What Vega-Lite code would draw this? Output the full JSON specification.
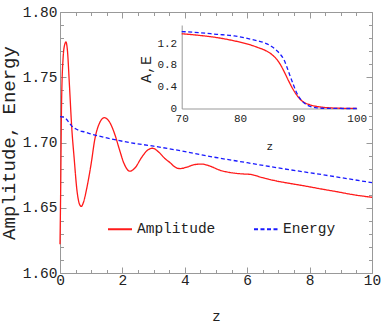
{
  "$schema": "https://vega.github.io/schema/vega-lite/v6.json",
  "width": 312,
  "height": 261,
  "autosize": {"type": "none"},
  "padding": {"left": 60, "top": 12, "right": 10, "bottom": 54},
  "background": "white",
  "datasets": {
    "main": [
      {"z": 0, "v": 1.622, "series": "Amplitude"},
      {"z": 0.02, "v": 1.66, "series": "Amplitude"},
      {"z": 0.05, "v": 1.73, "series": "Amplitude"},
      {"z": 0.1, "v": 1.765, "series": "Amplitude"},
      {"z": 0.15, "v": 1.775, "series": "Amplitude"},
      {"z": 0.19, "v": 1.777, "series": "Amplitude"},
      {"z": 0.24, "v": 1.77, "series": "Amplitude"},
      {"z": 0.3, "v": 1.745, "series": "Amplitude"},
      {"z": 0.38, "v": 1.71, "series": "Amplitude"},
      {"z": 0.45, "v": 1.689, "series": "Amplitude"},
      {"z": 0.55, "v": 1.662, "series": "Amplitude"},
      {"z": 0.62, "v": 1.653, "series": "Amplitude"},
      {"z": 0.68, "v": 1.651, "series": "Amplitude"},
      {"z": 0.75, "v": 1.654, "series": "Amplitude"},
      {"z": 0.85, "v": 1.664, "series": "Amplitude"},
      {"z": 1.0, "v": 1.684, "series": "Amplitude"},
      {"z": 1.12, "v": 1.703, "series": "Amplitude"},
      {"z": 1.25, "v": 1.714, "series": "Amplitude"},
      {"z": 1.42, "v": 1.719, "series": "Amplitude"},
      {"z": 1.58, "v": 1.716, "series": "Amplitude"},
      {"z": 1.76, "v": 1.706, "series": "Amplitude"},
      {"z": 1.9, "v": 1.695, "series": "Amplitude"},
      {"z": 2.05, "v": 1.684, "series": "Amplitude"},
      {"z": 2.24, "v": 1.678, "series": "Amplitude"},
      {"z": 2.42, "v": 1.681, "series": "Amplitude"},
      {"z": 2.6, "v": 1.688, "series": "Amplitude"},
      {"z": 2.8, "v": 1.694, "series": "Amplitude"},
      {"z": 2.97, "v": 1.6956, "series": "Amplitude"},
      {"z": 3.15, "v": 1.693, "series": "Amplitude"},
      {"z": 3.35, "v": 1.688, "series": "Amplitude"},
      {"z": 3.53, "v": 1.6845, "series": "Amplitude"},
      {"z": 3.7, "v": 1.681, "series": "Amplitude"},
      {"z": 3.85, "v": 1.68, "series": "Amplitude"},
      {"z": 4.05, "v": 1.681, "series": "Amplitude"},
      {"z": 4.3, "v": 1.683, "series": "Amplitude"},
      {"z": 4.54, "v": 1.6835, "series": "Amplitude"},
      {"z": 4.8, "v": 1.682, "series": "Amplitude"},
      {"z": 5.1, "v": 1.679, "series": "Amplitude"},
      {"z": 5.45, "v": 1.677, "series": "Amplitude"},
      {"z": 5.8, "v": 1.676, "series": "Amplitude"},
      {"z": 6.09, "v": 1.6756, "series": "Amplitude"},
      {"z": 6.5, "v": 1.673, "series": "Amplitude"},
      {"z": 6.94, "v": 1.6705, "series": "Amplitude"},
      {"z": 7.4, "v": 1.6685, "series": "Amplitude"},
      {"z": 7.8, "v": 1.6669, "series": "Amplitude"},
      {"z": 8.3, "v": 1.6647, "series": "Amplitude"},
      {"z": 8.87, "v": 1.6623, "series": "Amplitude"},
      {"z": 9.4, "v": 1.66, "series": "Amplitude"},
      {"z": 10, "v": 1.658, "series": "Amplitude"},
      {"z": 0, "v": 1.7198, "series": "Energy"},
      {"z": 0.1, "v": 1.7195, "series": "Energy"},
      {"z": 0.2, "v": 1.718, "series": "Energy"},
      {"z": 0.3, "v": 1.715, "series": "Energy"},
      {"z": 0.4, "v": 1.712, "series": "Energy"},
      {"z": 0.5, "v": 1.7105, "series": "Energy"},
      {"z": 0.6, "v": 1.7093, "series": "Energy"},
      {"z": 0.8, "v": 1.708, "series": "Energy"},
      {"z": 1, "v": 1.7065, "series": "Energy"},
      {"z": 1.5, "v": 1.7035, "series": "Energy"},
      {"z": 2.24, "v": 1.6999, "series": "Energy"},
      {"z": 3, "v": 1.6972, "series": "Energy"},
      {"z": 3.6, "v": 1.6948, "series": "Energy"},
      {"z": 5, "v": 1.6885, "series": "Energy"},
      {"z": 6, "v": 1.6845, "series": "Energy"},
      {"z": 7, "v": 1.6805, "series": "Energy"},
      {"z": 8.5, "v": 1.675, "series": "Energy"},
      {"z": 10, "v": 1.6692, "series": "Energy"}
    ],
    "inset": [
      {"z": 70, "v": 1.37, "series": "Amplitude"},
      {"z": 73, "v": 1.34, "series": "Amplitude"},
      {"z": 76, "v": 1.3, "series": "Amplitude"},
      {"z": 79, "v": 1.24, "series": "Amplitude"},
      {"z": 81, "v": 1.19, "series": "Amplitude"},
      {"z": 83, "v": 1.12, "series": "Amplitude"},
      {"z": 84.5, "v": 1.055, "series": "Amplitude"},
      {"z": 85.5, "v": 0.985, "series": "Amplitude"},
      {"z": 86.3, "v": 0.9, "series": "Amplitude"},
      {"z": 87, "v": 0.79, "series": "Amplitude"},
      {"z": 87.7, "v": 0.645, "series": "Amplitude"},
      {"z": 88.4, "v": 0.49, "series": "Amplitude"},
      {"z": 89.1, "v": 0.35, "series": "Amplitude"},
      {"z": 89.7, "v": 0.25, "series": "Amplitude"},
      {"z": 90.3, "v": 0.17, "series": "Amplitude"},
      {"z": 91, "v": 0.11, "series": "Amplitude"},
      {"z": 91.8, "v": 0.075, "series": "Amplitude"},
      {"z": 92.6, "v": 0.05, "series": "Amplitude"},
      {"z": 94, "v": 0.025, "series": "Amplitude"},
      {"z": 95, "v": 0.015, "series": "Amplitude"},
      {"z": 97, "v": 0.005, "series": "Amplitude"},
      {"z": 100, "v": 0.002, "series": "Amplitude"},
      {"z": 70, "v": 1.41, "series": "Energy"},
      {"z": 73, "v": 1.39, "series": "Energy"},
      {"z": 76, "v": 1.36, "series": "Energy"},
      {"z": 79, "v": 1.33, "series": "Energy"},
      {"z": 81, "v": 1.29, "series": "Energy"},
      {"z": 83, "v": 1.24, "series": "Energy"},
      {"z": 84.5, "v": 1.19, "series": "Energy"},
      {"z": 85.5, "v": 1.13, "series": "Energy"},
      {"z": 86.3, "v": 1.06, "series": "Energy"},
      {"z": 87, "v": 0.98, "series": "Energy"},
      {"z": 87.5, "v": 0.9, "series": "Energy"},
      {"z": 88, "v": 0.77, "series": "Energy"},
      {"z": 88.5, "v": 0.62, "series": "Energy"},
      {"z": 89.1, "v": 0.45, "series": "Energy"},
      {"z": 89.7, "v": 0.29, "series": "Energy"},
      {"z": 90.3, "v": 0.18, "series": "Energy"},
      {"z": 91, "v": 0.1, "series": "Energy"},
      {"z": 92, "v": 0.04, "series": "Energy"},
      {"z": 93, "v": 0.015, "series": "Energy"},
      {"z": 94, "v": 0.005, "series": "Energy"},
      {"z": 96, "v": 0.001, "series": "Energy"},
      {"z": 100, "v": 0, "series": "Energy"}
    ]
  },
  "layer": [
    {
      "data": {"name": "main"},
      "mark": {"type": "line", "interpolate": "monotone", "strokeWidth": 1.3},
      "encoding": {
        "x": {"field": "z", "type": "quantitative", "scale": {"domain": [0, 10], "nice": false, "zero": false},
          "axis": {"orient": "bottom", "title": "z", "ticks": false, "values": [0, 2, 4, 6, 8, 10], "format": "d", "labelFontSize": 14.5, "labelPadding": 0, "labelFlush": false, "labelOverlap": false, "titleFontSize": 14, "titleY": 47, "titleBaseline": "alphabetic"}},
        "y": {"field": "v", "type": "quantitative", "scale": {"domain": [1.6, 1.8], "nice": false, "zero": false},
          "axis": {"orient": "left", "title": "Amplitude, Energy", "ticks": false, "values": [1.6, 1.65, 1.7, 1.75, 1.8], "format": ".2f", "labelFontSize": 14.5, "labelPadding": 3, "labelFlush": false, "labelOverlap": false, "titleFontSize": 19, "titleX": -46, "titleY": 130.5, "titleBaseline": "alphabetic"}},
        "color": {"field": "series", "type": "nominal", "title": null, "scale": {"domain": ["Amplitude", "Energy"], "range": ["#ff1a1a", "#1a1aff"]}},
        "strokeDash": {"field": "series", "type": "nominal", "title": null, "scale": {"domain": ["Amplitude", "Energy"], "range": [[1, 0], [4, 2.5]]}}
      }
    },
    {
      "data": {"name": "main"},
      "mark": {"type": "point", "opacity": 0},
      "encoding": {
        "x": {"field": "z", "type": "quantitative", "scale": {"domain": [0, 10], "nice": false, "zero": false},
          "axis": {"orient": "top", "title": null, "labels": false, "values": [0, 2, 4, 6, 8, 10], "tickSize": -6}},
        "y": {"field": "v", "type": "quantitative", "scale": {"domain": [1.6, 1.8], "nice": false, "zero": false},
          "axis": {"orient": "right", "title": null, "labels": false, "values": [1.6, 1.65, 1.7, 1.75, 1.8], "tickSize": -6}}
      }
    },
    {
      "data": {"name": "main"},
      "mark": {"type": "point", "opacity": 0},
      "encoding": {
        "x": {"field": "z", "type": "quantitative", "scale": {"domain": [0, 10], "nice": false, "zero": false},
          "axis": {"orient": "bottom", "title": null, "labels": false, "domain": false, "values": [0, 2, 4, 6, 8, 10], "tickSize": -6}},
        "y": {"field": "v", "type": "quantitative", "scale": {"domain": [1.6, 1.8], "nice": false, "zero": false},
          "axis": {"orient": "left", "title": null, "labels": false, "domain": false, "values": [1.6, 1.65, 1.7, 1.75, 1.8], "tickSize": -6}}
      }
    },
    {
      "data": {"name": "main"},
      "mark": {"type": "point", "opacity": 0},
      "encoding": {
        "x": {"field": "z", "type": "quantitative", "scale": {"domain": [0, 10], "nice": false, "zero": false},
          "axis": {"orient": "top", "title": null, "labels": false, "domain": false, "values": [0.5, 1, 1.5, 2.5, 3, 3.5, 4.5, 5, 5.5, 6.5, 7, 7.5, 8.5, 9, 9.5], "tickSize": -3.5}},
        "y": {"field": "v", "type": "quantitative", "scale": {"domain": [1.6, 1.8], "nice": false, "zero": false},
          "axis": {"orient": "right", "title": null, "labels": false, "domain": false, "values": [1.61, 1.62, 1.63, 1.64, 1.66, 1.67, 1.68, 1.69, 1.71, 1.72, 1.73, 1.74, 1.76, 1.77, 1.78, 1.79], "tickSize": -3.5}}
      }
    },
    {
      "data": {"name": "main"},
      "mark": {"type": "point", "opacity": 0},
      "encoding": {
        "x": {"field": "z", "type": "quantitative", "scale": {"domain": [0, 10], "nice": false, "zero": false},
          "axis": {"orient": "bottom", "title": null, "labels": false, "domain": false, "values": [0.5, 1, 1.5, 2.5, 3, 3.5, 4.5, 5, 5.5, 6.5, 7, 7.5, 8.5, 9, 9.5], "tickSize": -3.5}},
        "y": {"field": "v", "type": "quantitative", "scale": {"domain": [1.6, 1.8], "nice": false, "zero": false},
          "axis": {"orient": "left", "title": null, "labels": false, "domain": false, "values": [1.61, 1.62, 1.63, 1.64, 1.66, 1.67, 1.68, 1.69, 1.71, 1.72, 1.73, 1.74, 1.76, 1.77, 1.78, 1.79], "tickSize": -3.5}}
      }
    },
    {
      "data": {"name": "inset"},
      "mark": {"type": "line", "interpolate": "monotone", "strokeWidth": 1.3},
      "encoding": {
        "x": {"field": "z", "type": "quantitative", "scale": {"domain": [70, 100], "range": [121.7, 296.7], "nice": false, "zero": false},
          "axis": {"orient": "bottom", "offset": -164.5, "title": "z", "ticks": false, "values": [70, 80, 90, 100], "format": "d", "labelFontSize": 11, "labelPadding": 4, "labelFlush": false, "labelOverlap": false, "titleFontSize": 11, "titleY": 40.5, "titleBaseline": "alphabetic"}},
        "y": {"field": "v", "type": "quantitative", "scale": {"domain": [0, 1.53], "range": [96.5, 13], "nice": false, "zero": false},
          "axis": {"orient": "left", "offset": -121.7, "title": "A,E", "ticks": false, "values": [0, 0.4, 0.8, 1.2], "format": "~g", "labelFontSize": 11, "labelPadding": 5, "labelFlush": false, "labelOverlap": false, "titleFontSize": 15, "titleX": -31, "titleY": 57, "titleBaseline": "alphabetic"}},
        "color": {"field": "series", "type": "nominal", "title": null, "scale": {"domain": ["Amplitude", "Energy"], "range": ["#ff1a1a", "#1a1aff"]}},
        "strokeDash": {"field": "series", "type": "nominal", "title": null, "scale": {"domain": ["Amplitude", "Energy"], "range": [[1, 0], [4, 2.5]]}}
      }
    }
  ],
  "resolve": {"scale": {"x": "independent", "y": "independent"}, "axis": {"x": "independent", "y": "independent"}},
  "config": {
    "view": {"stroke": null},
    "axis": {"grid": false, "domainColor": "#999999", "tickColor": "#999999", "labelColor": "#222222", "titleColor": "#222222", "labelFont": "Liberation Mono", "titleFont": "Liberation Mono", "titleFontWeight": "normal"},
    "legend": {"orient": "none", "legendX": 47, "legendY": 204, "direction": "horizontal", "symbolType": "stroke", "symbolSize": 576, "symbolStrokeWidth": 2, "labelFont": "Liberation Mono", "labelFontSize": 14.5, "labelColor": "#222222", "labelOffset": 4, "columnPadding": 34, "padding": 0}
  }
}
